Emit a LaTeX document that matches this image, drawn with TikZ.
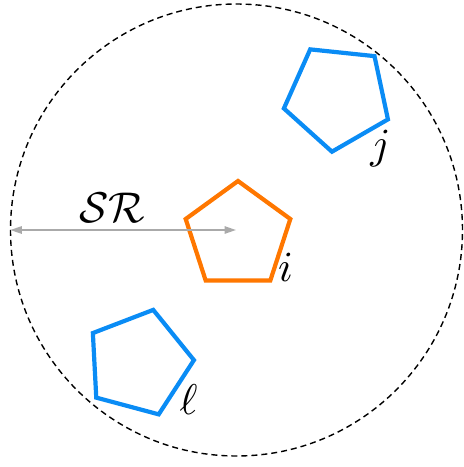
\documentclass[tikz,border=0pt]{standalone}
\usepackage{amsmath}
\usepackage{tikz}
\usetikzlibrary{positioning,arrows.meta,shapes.geometric}
\definecolor{agentorange}{HTML}{FF7700}
\definecolor{agentblue}{HTML}{0A8CF5}
\definecolor{rangegray}{HTML}{AAAAAA}

\begin{document}
\begin{tikzpicture}[
  x=1pt, y=-1pt,
  agent/.style={regular polygon, regular polygon sides=5, draw, line width=4.2pt, minimum size=110pt, inner sep=0pt, line join=miter},
  iagent/.style={agent, draw=agentorange},
  nagent/.style={agent, draw=agentblue},
  senserange/.style={circle, draw=black, dashed, dash pattern=on 6pt off 4pt, line width=1.4pt, minimum size=452pt, inner sep=0pt},
  rarr/.style={{Triangle[open, length=12pt, width=7pt]}-{Triangle[open, length=12pt, width=7pt]}, line width=2.6pt, color=rangegray},
  lab/.style={scale=4.3, anchor=base, inner sep=0pt},
]
  \useasboundingbox (0,0) rectangle (464,467);
  % sensing range
  \node[senserange] (sr) at (236.5,230) {};
  % agents
  \node[iagent] (i) at (238,236) {};
  \node[nagent, rotate=30] (j) at (337.7,97) {};
  \node[nagent, rotate=-15] (l) at (139,363) {};
  % labels
  \node[lab] (ilab) at (285.5,281) {$i$};
  \node[lab] (jlab) at (380.5,158) {$j$};
  \node[lab] (llab) at (188.5,414) {$\ell$};
  % radius
  \draw[rarr] (sr.center) -- (sr.west);
  \node[lab] (srlab) at (112,222) {$\mathcal{SR}$};
\end{tikzpicture}
\end{document}
